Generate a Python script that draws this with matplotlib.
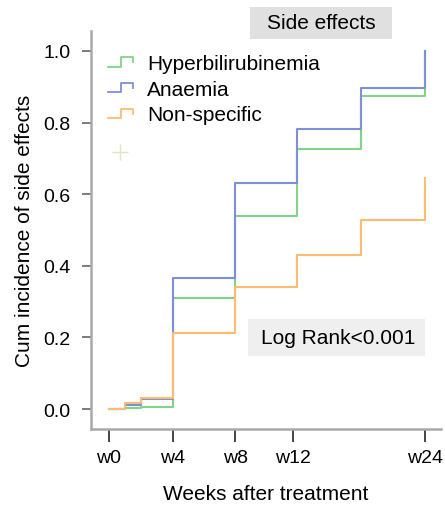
import numpy as np
import matplotlib
matplotlib.use("Agg")
import matplotlib.pyplot as plt
from matplotlib.lines import Line2D
from matplotlib.patches import Rectangle
from matplotlib.legend_handler import HandlerBase

plt.rcParams['font.family'] = ['Liberation Sans', 'DejaVu Sans']

# step times (weeks after treatment) and cumulative incidence per group
weeks = [0, 1, 2, 4, 8, 12.4, 18.2, 24]
hyperbili = [0, 0.003, 0.005, 0.31, 0.54, 0.725, 0.873, 1.0]
anaemia = [0, 0.012, 0.028, 0.365, 0.632, 0.782, 0.897, 1.0]
nonspecific = [0, 0.017, 0.03, 0.212, 0.342, 0.431, 0.527, 0.645]

tick_weeks = [0, 4, 8, 12, 24]
tick_labels = ['w0', 'w4', 'w8', 'w12', 'w24']
y_ticks = [0.0, 0.2, 0.4, 0.6, 0.8, 1.0]

# the time axis in the figure is not linear, so map weeks -> axis position
map_weeks = [-10, 0, 4, 8, 12, 24, 40]
map_pos = [-10, 0, 4, 7.9, 11.5, 19.75, 19.75 + 16 * 0.6875]


def fwd(x):
    return np.interp(x, map_weeks, map_pos)


def inv(x):
    return np.interp(x, map_pos, map_weeks)


green = '#7dd585'
blue = '#7f8ed8'
orange = '#ffbb6e'


class StepHandler(HandlerBase):
    def create_artists(self, legend, orig_handle, xdescent, ydescent,
                       width, height, fontsize, trans):
        xs = np.array([0.0, 0.5, 0.5, 1.0, 1.0]) * width - xdescent
        ys = np.array([0.15, 0.15, 0.8, 0.8, 0.45]) * height - ydescent
        ln = Line2D(xs, ys, color=orig_handle.get_color(), lw=1.3,
                    transform=trans)
        return [ln]


W, H = 445, 506
fig = plt.figure(figsize=(4.45, 5.06), dpi=100)
ax = fig.add_axes([0.2045, 0.150, 0.7865, 0.787])
ax.set_xscale('function', functions=(fwd, inv))

l1, = ax.step(weeks, hyperbili, where='post', color=green, lw=1.5)
l2, = ax.step(weeks, anaemia, where='post', color=blue, lw=1.5)
l3, = ax.step(weeks, nonspecific, where='post', color=orange, lw=1.5)

ax.set_xlim(inv(-1.125), inv(20.75))
ax.set_ylim(-0.056, 1.056)
ax.set_xticks(tick_weeks)
ax.set_xticklabels(tick_labels)
ax.set_yticks(y_ticks)
ax.set_yticklabels(['%.1f' % v for v in y_ticks])
ax.minorticks_off()

for s in ['top', 'right']:
    ax.spines[s].set_visible(False)
for s in ['left', 'bottom']:
    ax.spines[s].set_color('#a8a8a8')
    ax.spines[s].set_linewidth(1.8)

ax.tick_params(axis='x', direction='out', length=9.5, width=1.4,
               color='#444444', labelsize=14, pad=5)
ax.tick_params(axis='y', direction='out', length=6.5, width=1.2,
               color='#666666', labelsize=14, pad=8)

ax.set_xlabel('Weeks after treatment', fontsize=15, labelpad=13)
ax.set_ylabel('Cum incidence of side effects', fontsize=15, labelpad=7)

leg = ax.legend([l1, l2, l3],
                ['Hyperbilirubinemia', 'Anaemia', 'Non-specific'],
                handler_map={l1: StepHandler(), l2: StepHandler(),
                             l3: StepHandler()},
                loc='upper left', bbox_to_anchor=(0.224, 0.908),
                bbox_transform=fig.transFigure, frameon=False,
                fontsize=15, handlelength=1.2, handletextpad=0.67,
                labelspacing=0.32, borderaxespad=0)

# faint censor mark entry below the legend
fig.add_artist(Line2D([120 / W], [1 - 153 / H], color='#dfe6c8', marker='+',
                      markersize=12, lw=0, transform=fig.transFigure))

# grey boxes behind the title and the test result
fig.add_artist(Rectangle((250 / W, 1 - 40 / H), 142 / W, 32 / H,
                         fc='#e0e0e0', ec='none', transform=fig.transFigure))
fig.text(321 / W, 1 - 24 / H, 'Side effects', fontsize=15, ha='center',
         va='center')
fig.add_artist(Rectangle((248 / W, 1 - 357 / H), 177 / W, 37 / H,
                         fc='#efefef', ec='none', transform=fig.transFigure))
fig.text(338 / W, 1 - 338.5 / H, 'Log Rank<0.001', fontsize=15, ha='center',
         va='center')

fig.savefig('out.png', dpi=100)
